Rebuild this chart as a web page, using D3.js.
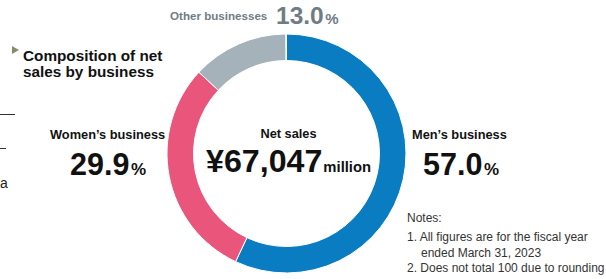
<!DOCTYPE html>
<html>
<head>
<meta charset="utf-8">
<script src="https://cdn.jsdelivr.net/npm/d3@7"></script>
<style>
  body { margin: 0; background: #fff; }
  svg text { font-family: "Liberation Sans", Arial, Helvetica, sans-serif; }
</style>
</head>
<body>
<div class="chart"></div>
<script>
// Segment data
const segments = ["Men’s business", "Women’s business", "Other businesses"];
const shares = [57.0, 29.9, 13.0];
const colors = ["#0a7dc2", "#e9557b", "#a6b2b9"];

const totalLabel = "Net sales";
const totalValue = "¥67,047";
const totalUnit = "million";

const notes = [
    "Notes:",
    "1. All figures are for the fiscal year",
    "ended March 31, 2023",
    "2. Does not total 100 due to rounding"
];

function createDonut() {
    const width = 606, height = 279;
    const cx = 286.5, cy = 153.5;
    const outerR = 119.5, innerR = 93;

    const svg = d3.select("div.chart").append("svg")
        .attr("width", width)
        .attr("height", height);

    // cropped fragments from neighbouring page
    svg.append("line").attr("x1", 0).attr("x2", 15).attr("y1", 114.5).attr("y2", 114.5)
        .attr("stroke", "#333").attr("stroke-width", 1);
    svg.append("line").attr("x1", 0).attr("x2", 6).attr("y1", 148.5).attr("y2", 148.5)
        .attr("stroke", "#333").attr("stroke-width", 1);
    svg.append("text").attr("x", 0).attr("y", 188).attr("font-size", 14).attr("fill", "#222").text("a");

    // title
    svg.append("path").attr("d", "M12,46 L19,50 L12,54 Z").attr("fill", "#8c8a6c");
    const title = svg.append("text").attr("font-size", 15.3).attr("font-weight", "bold").attr("fill", "#111");
    title.append("tspan").attr("x", 23).attr("y", 61).text("Composition of net");
    title.append("tspan").attr("x", 23).attr("y", 77).text("sales by business");

    // donut
    const pie = d3.pie().sort(null).value(d => d)
        .startAngle(0).endAngle(2 * Math.PI * d3.sum(shares) / 100);
    const arc = d3.arc().innerRadius(innerR).outerRadius(outerR);

    const g = svg.append("g").attr("transform", `translate(${cx},${cy})`);
    g.selectAll("path")
        .data(pie(shares))
        .enter().append("path")
        .attr("d", arc)
        .attr("fill", (d, i) => colors[i])
        .attr("stroke", "#fff")
        .attr("stroke-width", 1);

    // center label
    svg.append("text").attr("x", cx + 2).attr("y", 138).attr("text-anchor", "middle")
        .attr("font-size", 12.8).attr("font-weight", "bold").attr("fill", "#111").text(totalLabel);
    const tv = svg.append("text").attr("x", 206).attr("y", 172)
        .attr("font-weight", "bold").attr("fill", "#111");
    tv.append("tspan").attr("font-size", 32.2).text(totalValue);
    tv.append("tspan").attr("font-size", 14.8).attr("dx", 1).text(totalUnit);

    // segment labels
    const labelPos = [
        { x: 412, y: 139, vx: 423, vy: 175, size: 30.5, psize: 17, color: "#111" },
        { x: 50, y: 139, vx: 70, vy: 175, size: 30.5, psize: 17, color: "#111" },
        { x: 170, y: 20, vx: 276, vy: 24, size: 24.5, psize: 15, color: "#6f7c86", inline: true }
    ];
    segments.forEach((s, i) => {
        const p = labelPos[i];
        svg.append("text").attr("x", p.x).attr("y", p.y)
            .attr("font-size", p.inline ? 11.6 : 12.8).attr("font-weight", "bold")
            .attr("fill", p.color).text(s);
        const t = svg.append("text").attr("x", p.vx).attr("y", p.vy)
            .attr("font-weight", "bold").attr("fill", p.color);
        t.append("tspan").attr("font-size", p.size).text(shares[i].toFixed(1));
        t.append("tspan").attr("font-size", p.psize).attr("dx", 1.5).text("%");
    });

    // notes
    const ny = [222, 241, 257, 272];
    const nx = [407, 407, 421, 407];
    notes.forEach((n, i) => {
        svg.append("text").attr("x", nx[i]).attr("y", ny[i])
            .attr("font-size", 12).attr("fill", "#333")
            .text(n);
    });
}

createDonut();
</script>
</body>
</html>
